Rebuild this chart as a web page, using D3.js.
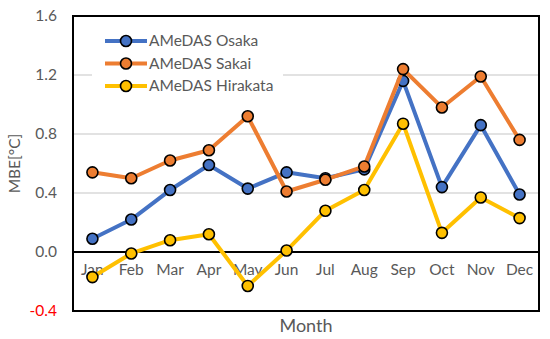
<!DOCTYPE html>
<html>
<head>
<meta charset="utf-8">
<script src="https://cdn.jsdelivr.net/npm/d3@7"></script>
<style>
body{margin:0;background:#fff;}
svg{font-family:Lato,"Open Sans",sans-serif;}
</style>
</head>
<body>
<div id="plot"></div>
<script>
//chart data
var months = ['Jan','Feb','Mar','Apr','May','Jun','Jul','Aug','Sep','Oct','Nov','Dec'];
var osaka = [0.09,0.22,0.42,0.59,0.43,0.54,0.50,0.56,1.16,0.44,0.86,0.39];
var sakai = [0.54,0.50,0.62,0.69,0.92,0.41,0.49,0.58,1.24,0.98,1.19,0.76];
var hirakata = [-0.17,-0.01,0.08,0.12,-0.23,0.01,0.28,0.42,0.87,0.13,0.37,0.23];
var seriesNames = ['AMeDAS Osaka','AMeDAS Sakai','AMeDAS Hirakata'];
var yTicks = [-0.4,0.0,0.4,0.8,1.2,1.6];

var colors = ['#4472C4','#ED7D31','#FFC000'];
var series = [osaka,sakai,hirakata];

var W = 550, H = 339;
var margin = {t:16,r:11,b:28,l:73};
var width = W-margin.l-margin.r,
	height = H-margin.t-margin.b;

var svg = d3.select('#plot')
	.append('svg')
	.attr('width',W)
	.attr('height',H);

var plot = svg.append('g')
	.attr('transform','translate('+margin.l+','+margin.t+')');

var x = d3.scaleBand().domain(months).range([0,width]);
var y = d3.scaleLinear().domain([-0.4,1.6]).range([height,0]);

//gridlines
plot.selectAll('.grid')
	.data(yTicks.filter(function(d){return d>0 && d<1.6;}))
	.enter()
	.append('line')
	.attr('x1',0).attr('x2',width)
	.attr('y1',function(d){return y(d);})
	.attr('y2',function(d){return y(d);})
	.attr('stroke','#d9d9d9')
	.attr('stroke-width',1.5);

//zero line
plot.append('line')
	.attr('x1',0).attr('x2',width)
	.attr('y1',y(0)).attr('y2',y(0))
	.attr('stroke','#000')
	.attr('stroke-width',2);

//y tick labels (plain hyphen for the negative one)
svg.selectAll('.ytick')
	.data(yTicks)
	.enter()
	.append('text')
	.attr('x',margin.l-16)
	.attr('y',function(d){return margin.t+y(d);})
	.attr('dy','0.35em')
	.attr('text-anchor','end')
	.attr('font-size',15.5)
	.attr('fill',function(d){return d<0?'#ff0000':'#595959';})
	.text(function(d){return d.toFixed(1);});

//month labels just under the zero line
plot.selectAll('.xtick')
	.data(months)
	.enter()
	.append('text')
	.attr('x',function(d){return x(d)+x.bandwidth()/2;})
	.attr('y',y(0)+23)
	.attr('text-anchor','middle')
	.attr('font-size',15.5)
	.attr('fill','#595959')
	.text(function(d){return d;});

//lines and markers
var line = d3.line()
	.x(function(d,i){return x(months[i])+x.bandwidth()/2;})
	.y(function(d){return y(d);});

series.forEach(function(s,k){
	plot.append('path')
		.datum(s)
		.attr('d',line)
		.attr('fill','none')
		.attr('stroke',colors[k])
		.attr('stroke-width',4)
		.attr('stroke-linejoin','round');
	plot.selectAll('.m'+k)
		.data(s)
		.enter()
		.append('circle')
		.attr('cx',function(d,i){return x(months[i])+x.bandwidth()/2;})
		.attr('cy',function(d){return y(d);})
		.attr('r',5.5)
		.attr('fill',colors[k])
		.attr('stroke','#000')
		.attr('stroke-width',1.6);
});

//legend
var legend = plot.append('g').attr('transform','translate(19,12)');
legend.append('rect')
	.attr('x',0).attr('y',0)
	.attr('width',191).attr('height',72)
	.attr('fill','#fff');
seriesNames.forEach(function(n,k){
	var ly = 13+k*22.5;
	legend.append('line')
		.attr('x1',13).attr('x2',55)
		.attr('y1',ly).attr('y2',ly)
		.attr('stroke',colors[k])
		.attr('stroke-width',4);
	legend.append('circle')
		.attr('cx',34).attr('cy',ly)
		.attr('r',5.5)
		.attr('fill',colors[k])
		.attr('stroke','#000')
		.attr('stroke-width',1.6);
	legend.append('text')
		.attr('x',57).attr('y',ly)
		.attr('dy','0.35em')
		.attr('font-size',15.5)
		.attr('fill','#595959')
		.text(n);
});

//plot border
plot.append('rect')
	.attr('width',width).attr('height',height)
	.attr('fill','none')
	.attr('stroke','#000')
	.attr('stroke-width',2);

//axis titles
svg.append('text')
	.attr('transform','translate(20,'+(margin.t+height/2)+') rotate(-90)')
	.attr('text-anchor','middle')
	.attr('font-size',15.5)
	.attr('fill','#595959')
	.text('MBE[°C]');

svg.append('text')
	.attr('x',margin.l+width/2)
	.attr('y',332)
	.attr('text-anchor','middle')
	.attr('font-size',18)
	.attr('fill','#595959')
	.text('Month');
</script>
</body>
</html>
